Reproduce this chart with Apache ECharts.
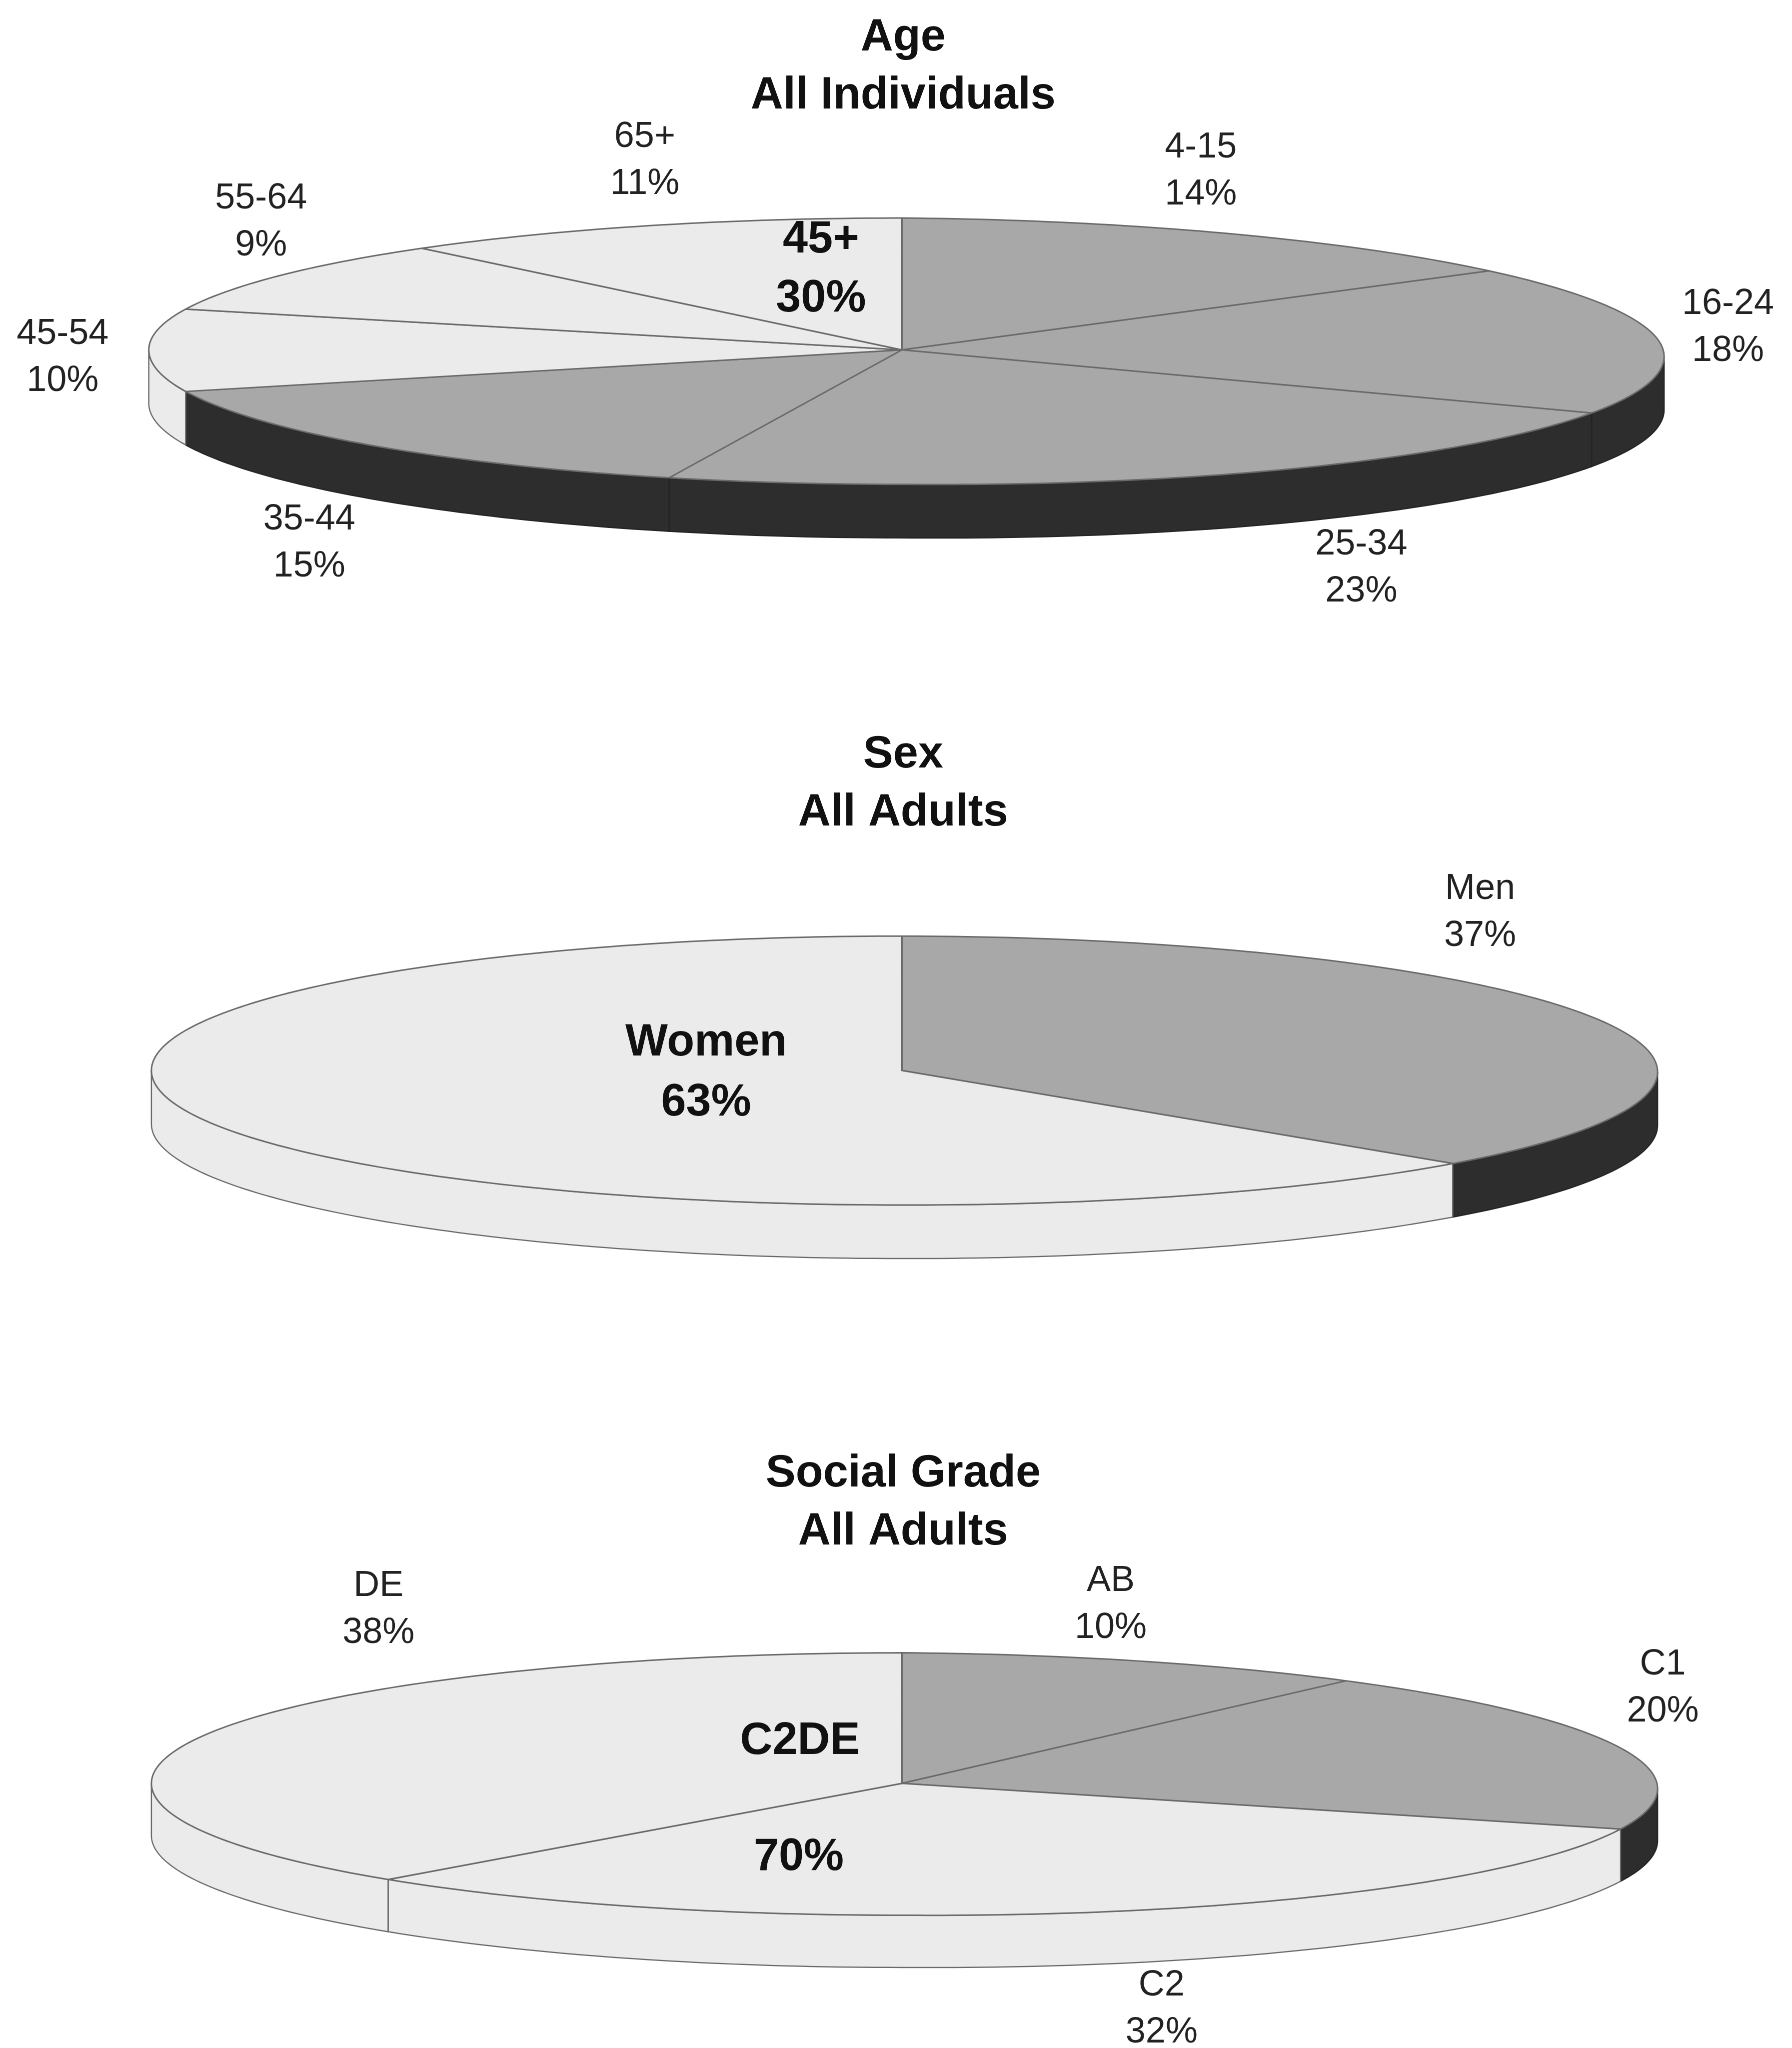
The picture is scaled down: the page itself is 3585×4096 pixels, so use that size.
<!DOCTYPE html>
<html>
<head>
<meta charset="utf-8">
<title>Age, Sex and Social Grade</title>
<script src="https://cdn.jsdelivr.net/npm/echarts@6/dist/echarts.min.js"></script>
<style>
    html, body { margin: 0; padding: 0; background: #fff; }
    #chart { width: 3585px; height: 4096px; }
</style>
</head>
<body>
<div id="chart"></div>
<script>
// data
const ageNames = ['4-15', '16-24', '25-34', '35-44', '45-54', '55-64', '65+'];
const ageValues = [14, 18, 23, 15, 10, 9, 11];
const sexNames = ['Men', 'Women'];
const sexValues = [37, 63];
const gradeNames = ['AB', 'C1', 'C2', 'DE'];
const gradeValues = [10, 20, 32, 38];

// the first n slices of each pie are the dark group
const ageDarkCount = 4;
const sexDarkCount = 1;
const gradeDarkCount = 2;

// layout, measured on the 1373 wide view of the picture
// sag: how far the right hand side of the disc hangs below the left
const S = 3585 / 1373;
const agePie = { left: 114, right: 1275, top: 167, apexX: 691, apexY: 268, front: 371, depth: 41, sag: 5 };
const sexPie = { left: 116, right: 1270, top: 717, apexX: 691, apexY: 820, front: 923, depth: 41, sag: 1 };
const gradePie = { left: 116, right: 1270, top: 1266, apexX: 691, apexY: 1366, front: 1467, depth: 40, sag: 4 };

const ageLabelPos = [[920, 131], [1324, 251], [1043, 435], [237, 416], [48, 274], [200, 170], [494, 123]];
const sexLabelPos = [[1134, 699], null];
const gradeLabelPos = [[851, 1229], [1274, 1293], [890, 1539], [290, 1233]];

const COLORS = {
    dark: '#a8a8a8', darkWall: '#2d2d2d', darkWallLine: '#242424',
    light: '#ebebeb', lightWall: '#ebebeb', line: '#6a6a6a'
};
const LABEL_SIZE = 72;
const BOLD_SIZE = 90;
const FONT = '"Liberation Sans", Arial, sans-serif';

const titles = [
    { text: 'Age\nAll Individuals', y: 7 },
    { text: 'Sex\nAll Adults', y: 556 },
    { text: 'Social Grade\nAll Adults', y: 1107 }
];
const boldLabels = [
    { text: '45+', x: 629, y: 184 },
    { text: '30%', x: 629, y: 229 },
    { text: 'Women', x: 541, y: 799 },
    { text: '63%', x: 541, y: 845 },
    { text: 'C2DE', x: 613, y: 1334 },
    { text: '70%', x: 612, y: 1423 }
];

const pies = [
    { names: ageNames, values: ageValues, darkCount: ageDarkCount, box: agePie, labelPos: ageLabelPos },
    { names: sexNames, values: sexValues, darkCount: sexDarkCount, box: sexPie, labelPos: sexLabelPos },
    { names: gradeNames, values: gradeValues, darkCount: gradeDarkCount, box: gradePie, labelPos: gradeLabelPos }
];

function makeRender(pie) {
    const box = pie.box;
    const L = box.apexX - box.left, R = box.right - box.apexX;
    const T = box.apexY - box.top, B = box.front - box.apexY;

    // angle in degrees, clockwise from 12 o'clock, on the tilted disc
    const rim = (deg, drop) => {
        const a = deg * Math.PI / 180, sx = Math.sin(a), cy = Math.cos(a);
        const sag = sx > 0 ? sx * box.sag : 0;
        return [sx * (sx < 0 ? L : R), cy * (cy > 0 ? T : B) - sag - (drop || 0)];
    };

    return function (params, api) {
        const startDeg = api.value(0) * 3.6;
        const endDeg = startDeg + api.value(1) * 3.6;
        const i = params.dataIndex;
        const isDark = i < pie.darkCount;
        const children = [];

        const wallFrom = Math.max(startDeg, 90), wallTo = Math.min(endDeg, 270);
        if (wallTo > wallFrom) {
            const upper = [], lower = [];
            for (let d = wallFrom; d < wallTo; d += 1) {
                upper.push(api.coord(rim(d)));
                lower.unshift(api.coord(rim(d, box.depth)));
            }
            upper.push(api.coord(rim(wallTo)));
            lower.unshift(api.coord(rim(wallTo, box.depth)));
            children.push({
                type: 'polygon',
                shape: { points: upper.concat(lower) },
                style: {
                    fill: isDark ? COLORS.darkWall : COLORS.lightWall,
                    stroke: isDark ? COLORS.darkWallLine : COLORS.line,
                    lineWidth: 2.5
                }
            });
        }

        const top = [api.coord([0, 0])];
        for (let d = startDeg; d < endDeg; d += 1) top.push(api.coord(rim(d)));
        top.push(api.coord(rim(endDeg)));
        children.push({
            type: 'polygon',
            shape: { points: top },
            style: { fill: isDark ? COLORS.dark : COLORS.light, stroke: COLORS.line, lineWidth: 3, lineJoin: 'round' }
        });

        const pos = pie.labelPos[i];
        if (pos) {
            children.push({
                type: 'text',
                style: {
                    text: pie.names[i] + '\n' + pie.values[i] + '%',
                    x: pos[0] * S,
                    y: pos[1] * S,
                    textAlign: 'center',
                    textVerticalAlign: 'middle',
                    font: LABEL_SIZE + 'px ' + FONT,
                    lineHeight: 94,
                    fill: '#222'
                }
            });
        }
        return { type: 'group', children: children };
    };
}

const grids = [], xAxes = [], yAxes = [], series = [];
pies.forEach((pie, n) => {
    const box = pie.box;
    grids.push({
        left: box.left * S,
        top: box.top * S,
        width: (box.right - box.left) * S,
        height: (box.front + box.depth - box.top) * S
    });
    xAxes.push({ type: 'value', gridIndex: n, show: false, min: box.left - box.apexX, max: box.right - box.apexX });
    yAxes.push({ type: 'value', gridIndex: n, show: false, min: box.apexY - box.front - box.depth, max: box.apexY - box.top });

    let cum = 0;
    const rows = pie.values.map(v => {
        const row = [cum, v];
        cum += v;
        return row;
    });
    series.push({
        type: 'custom',
        xAxisIndex: n,
        yAxisIndex: n,
        coordinateSystem: 'cartesian2d',
        clip: false,
        silent: true,
        renderItem: makeRender(pie),
        data: rows
    });
});

const chart = echarts.init(document.getElementById('chart'), null, { renderer: 'canvas' });
chart.setOption({
    animation: false,
    backgroundColor: '#ffffff',
    title: titles.map(t => ({
        text: t.text,
        left: 692 * S,
        top: t.y * S,
        textAlign: 'center',
        padding: 0,
        textStyle: { fontFamily: FONT, fontSize: BOLD_SIZE, fontWeight: 'bold', lineHeight: 116, color: '#111' }
    })),
    grid: grids,
    xAxis: xAxes,
    yAxis: yAxes,
    series: series,
    graphic: boldLabels.map(b => ({
        type: 'text',
        z: 100,
        silent: true,
        style: {
            text: b.text,
            x: b.x * S,
            y: b.y * S,
            textAlign: 'center',
            textVerticalAlign: 'middle',
            font: 'bold ' + BOLD_SIZE + 'px ' + FONT,
            fill: '#111'
        }
    }))
});
</script>
</body>
</html>
